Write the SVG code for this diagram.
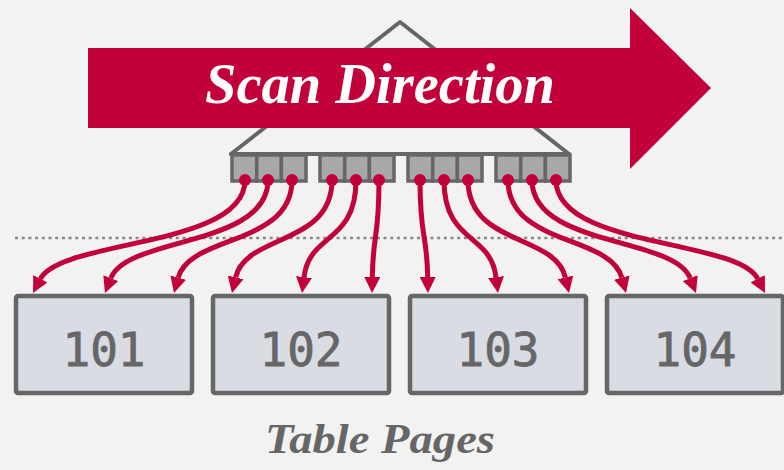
<svg xmlns="http://www.w3.org/2000/svg" width="784" height="470" viewBox="0 0 784 470">
  <style>
    .leaf { fill: #a8a8a8; stroke: #666666; stroke-width: 3.5; }
    .page { fill: #d9dce3; stroke: #666666; stroke-width: 4.5; }
    .pnum { font-family: "DejaVu Sans Mono", "Liberation Mono", monospace; font-size: 46px; fill: #666666; stroke: #666666; stroke-width: 0.8; text-anchor: middle; }
    .ptr { fill: none; stroke: #c2003a; stroke-width: 5; marker-end: url(#head); }
    .dot { fill: #c2003a; }
  </style>
  <defs>
    <marker id="head" viewBox="0 0 16 16" refX="0" refY="8" markerWidth="16" markerHeight="16" markerUnits="userSpaceOnUse" orient="auto">
      <path d="M0,0 L16,8 L0,16 z" fill="#c2003a"/>
    </marker>
  </defs>

  <rect width="784" height="470" fill="#f2f2f2"/>

  <!-- B+tree: inner node outline -->
  <g id="tree">
    <polygon points="400,22 231,154 569,154" fill="none" stroke="#666666" stroke-width="4" stroke-linejoin="round"/>
  </g>

  <!-- scan direction arrow -->
  <g id="scan-direction">
    <polygon points="88,48 630,48 630,8 711,88 630,169 630,128 88,128" fill="#c2003a"/>
    <text x="380" y="103" text-anchor="middle" textLength="350" lengthAdjust="spacingAndGlyphs" font-family="'Liberation Serif', serif" font-style="italic" font-weight="bold" font-size="56" fill="#ffffff">Scan Direction</text>
  </g>

  <!-- leaf nodes -->
  <g id="leaf-1">
    <rect class="leaf" x="232" y="155" width="24.7" height="26"/>
    <rect class="leaf" x="256.7" y="155" width="24.7" height="26"/>
    <rect class="leaf" x="281.4" y="155" width="24.6" height="26"/>
  </g>
  <g id="leaf-2">
    <rect class="leaf" x="320" y="155" width="24.7" height="26"/>
    <rect class="leaf" x="344.7" y="155" width="24.7" height="26"/>
    <rect class="leaf" x="369.4" y="155" width="24.6" height="26"/>
  </g>
  <g id="leaf-3">
    <rect class="leaf" x="408" y="155" width="24.7" height="26"/>
    <rect class="leaf" x="432.7" y="155" width="24.7" height="26"/>
    <rect class="leaf" x="457.4" y="155" width="24.6" height="26"/>
  </g>
  <g id="leaf-4">
    <rect class="leaf" x="496" y="155" width="24.7" height="26"/>
    <rect class="leaf" x="520.7" y="155" width="24.7" height="26"/>
    <rect class="leaf" x="545.4" y="155" width="24.6" height="26"/>
  </g>
  <line x1="231" y1="154" x2="569" y2="154" stroke="#666666" stroke-width="4" stroke-linecap="round"/>

  <!-- separator -->
  <line x1="15" y1="238" x2="784" y2="238" stroke="#888888" stroke-width="2.5" stroke-dasharray="3 3.7"/>

  <!-- table pages -->
  <g id="page-101">
    <rect class="page" x="16" y="296" width="176" height="97" rx="2"/>
    <text class="pnum" x="104" y="366">101</text>
  </g>
  <g id="page-102">
    <rect class="page" x="213" y="296" width="176" height="97" rx="2"/>
    <text class="pnum" x="301" y="366">102</text>
  </g>
  <g id="page-103">
    <rect class="page" x="410" y="296" width="176" height="97" rx="2"/>
    <text class="pnum" x="498" y="366">103</text>
  </g>
  <g id="page-104">
    <rect class="page" x="607" y="296" width="176" height="97" rx="2"/>
    <text class="pnum" x="695" y="366">104</text>
  </g>

  <!-- leaf entry pointers to pages -->
  <g id="pointers">
    <path class="ptr" d="M245,180 C245,248 61.2,238.9 40.4,278.8"/>
    <path class="ptr" d="M268,180 C268,247 127.1,236.2 110.8,278.1"/>
    <path class="ptr" d="M292,180 C292,246 190.1,234.2 178.2,277.6"/>
    <path class="ptr" d="M332,180 C332,246 245.7,233.6 235.6,277.4"/>
    <path class="ptr" d="M356,180 C356,244 309.5,232.4 304,277.1"/>
    <path class="ptr" d="M379,180 C379,240 373,232 372.3,277"/>
    <path class="ptr" d="M420,180 C420,240 427,232 427.7,277"/>
    <path class="ptr" d="M444,180 C444,244 490.5,232.4 496,277.1"/>
    <path class="ptr" d="M468,180 C468,246 555.2,233.6 565.4,277.4"/>
    <path class="ptr" d="M508,180 C508,246 609.9,234.2 621.8,277.6"/>
    <path class="ptr" d="M532,180 C532,247 673.8,236.2 690.2,278.1"/>
    <path class="ptr" d="M556,180 C556,248 737.1,238.8 757.7,278.8"/>
    <circle class="dot" cx="245" cy="180" r="6"/>
    <circle class="dot" cx="268" cy="180" r="6"/>
    <circle class="dot" cx="292" cy="180" r="6"/>
    <circle class="dot" cx="332" cy="180" r="6"/>
    <circle class="dot" cx="356" cy="180" r="6"/>
    <circle class="dot" cx="379" cy="180" r="6"/>
    <circle class="dot" cx="420" cy="180" r="6"/>
    <circle class="dot" cx="444" cy="180" r="6"/>
    <circle class="dot" cx="468" cy="180" r="6"/>
    <circle class="dot" cx="508" cy="180" r="6"/>
    <circle class="dot" cx="532" cy="180" r="6"/>
    <circle class="dot" cx="556" cy="180" r="6"/>
  </g>

  <text x="380" y="453" text-anchor="middle" textLength="230" lengthAdjust="spacingAndGlyphs" font-family="'Liberation Serif', serif" font-style="italic" font-weight="bold" font-size="42" fill="#666666">Table Pages</text>
</svg>
